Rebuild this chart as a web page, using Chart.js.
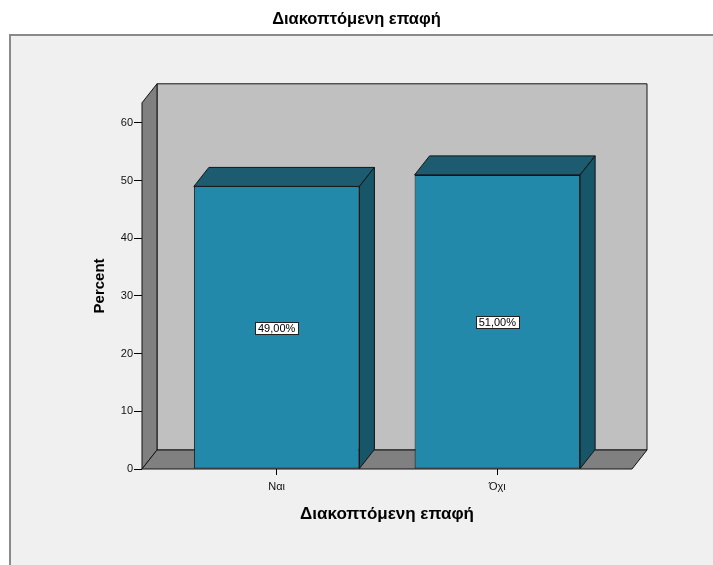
<!DOCTYPE html>
<html>
<head>
<meta charset="utf-8">
<script src="https://cdn.jsdelivr.net/npm/chart.js@4.4.1/dist/chart.umd.min.js"></script>
<style>
  html, body { margin: 0; padding: 0; background: #ffffff; }
  canvas { display: block; }
</style>
</head>
<body>
<canvas id="chart" width="713" height="565"></canvas>
<script>
// Categories, percentages and the tick values of the vertical axis
const categories = ['Ναι', 'Όχι'];
const percentValues = [49, 51];
const valueLabels = ['49,00%', '51,00%'];
const yTickValues = [0, 10, 20, 30, 40, 50, 60];

const FONT = '"Liberation Sans", Arial, Helvetica, sans-serif';
// Offset used for the pseudo-3D depth of walls and bars
const DEPTH_X = 15;
const DEPTH_Y = -19;
const COLORS = {
  front: '#2389ab',
  top: '#1c5b70',
  side: '#175668',
  backWall: '#c0c0c0',
  leftWall: '#808080',
  floor: '#808080',
  edge: '#141414'
};

function polygon(ctx, pts, fill, stroke) {
  ctx.beginPath();
  ctx.moveTo(pts[0][0], pts[0][1]);
  for (let i = 1; i < pts.length; i++) ctx.lineTo(pts[i][0], pts[i][1]);
  ctx.closePath();
  ctx.fillStyle = fill;
  ctx.fill();
  ctx.strokeStyle = stroke;
  ctx.lineWidth = 1;
  ctx.stroke();
}

// Page background and the grey frame around the plot
const backdrop = {
  id: 'backdrop',
  beforeDraw(chart) {
    const ctx = chart.ctx;
    ctx.save();
    ctx.fillStyle = '#ffffff';
    ctx.fillRect(0, 0, chart.width, chart.height);
    ctx.fillStyle = '#f0f0f0';
    ctx.fillRect(10, 35, chart.width, chart.height);
    ctx.strokeStyle = '#8a8a8a';
    ctx.lineWidth = 2;
    ctx.beginPath();
    ctx.moveTo(10, chart.height + 4);
    ctx.lineTo(10, 35);
    ctx.lineTo(chart.width + 4, 35);
    ctx.stroke();
    ctx.restore();
  }
};

// Back wall, left wall and floor of the 3D box, then the bar tops, sides and value labels
const box3d = {
  id: 'box3d',
  beforeDatasetsDraw(chart) {
    const ctx = chart.ctx;
    const y = chart.scales.y;
    const { left, right } = chart.chartArea;
    const top = y.getPixelForValue(y.max);
    const bottom = y.getPixelForValue(0);
    ctx.save();
    polygon(ctx, [[left + DEPTH_X, top + DEPTH_Y], [right + DEPTH_X, top + DEPTH_Y],
                  [right + DEPTH_X, bottom + DEPTH_Y], [left + DEPTH_X, bottom + DEPTH_Y]],
            COLORS.backWall, COLORS.edge);
    polygon(ctx, [[left, bottom], [left, top], [left + DEPTH_X, top + DEPTH_Y], [left + DEPTH_X, bottom + DEPTH_Y]],
            COLORS.leftWall, COLORS.edge);
    polygon(ctx, [[left, bottom], [right, bottom], [right + DEPTH_X, bottom + DEPTH_Y], [left + DEPTH_X, bottom + DEPTH_Y]],
            COLORS.floor, COLORS.edge);
    ctx.restore();
  },
  afterDatasetsDraw(chart) {
    const ctx = chart.ctx;
    const yScale = chart.scales.y;
    const meta = chart.getDatasetMeta(0);
    ctx.save();
    meta.data.forEach((bar, i) => {
      const p = bar.getProps(['x', 'y', 'base', 'width'], true);
      const l = p.x - p.width / 2;
      const r = p.x + p.width / 2;
      polygon(ctx, [[l, p.y], [l + DEPTH_X, p.y + DEPTH_Y], [r + DEPTH_X, p.y + DEPTH_Y], [r, p.y]],
              COLORS.top, COLORS.edge);
      polygon(ctx, [[r, p.y], [r + DEPTH_X, p.y + DEPTH_Y], [r + DEPTH_X, p.base + DEPTH_Y], [r, p.base]],
              COLORS.side, COLORS.edge);

      // value label in a white box at mid-height of the bar
      const cy = yScale.getPixelForValue(percentValues[i] / 2);
      ctx.font = '11px ' + FONT;
      const text = valueLabels[i];
      const w = Math.round(ctx.measureText(text).width) + 6;
      const h = 12;
      const bx = Math.round(p.x - w / 2) + 0.5;
      const by = Math.round(cy - h / 2) + 0.5;
      ctx.fillStyle = '#ffffff';
      ctx.fillRect(bx, by, w, h);
      ctx.strokeStyle = '#222222';
      ctx.lineWidth = 1;
      ctx.strokeRect(bx, by, w, h);
      ctx.fillStyle = '#000000';
      ctx.textAlign = 'center';
      ctx.textBaseline = 'middle';
      ctx.fillText(text, p.x, by + h / 2 + 0.5);
    });
    ctx.restore();
  }
};

const barData = percentValues.map((v, i) => ({ x: i, y: v }));

new Chart(document.getElementById('chart'), {
  type: 'bar',
  data: {
    datasets: [{
      data: barData,
      xAxisID: 'x',
      yAxisID: 'y',
      backgroundColor: COLORS.front,
      borderColor: COLORS.edge,
      borderWidth: 1,
      borderSkipped: false,
      categoryPercentage: 1,
      barPercentage: 0.75
    }]
  },
  plugins: [backdrop, box3d],
  options: {
    responsive: false,
    animation: false,
    devicePixelRatio: 1,
    layout: { padding: 0 },
    plugins: {
      legend: { display: false },
      tooltip: { enabled: false },
      title: {
        display: true,
        text: 'Διακοπτόμενη επαφή',
        color: '#000000',
        font: { family: FONT, size: 16.5, weight: 'bold', lineHeight: 1.2 },
        padding: { top: 10, bottom: 73 }
      }
    },
    scales: {
      x: {
        type: 'linear',
        offset: false,
        min: -0.61,
        max: 1.61,
        afterBuildTicks(scale) {
          scale.ticks = categories.map((c, i) => ({ value: i }));
        },
        afterFit(scale) { scale.height = 96; },
        ticks: {
          callback: (v) => categories[v],
          color: '#111111',
          font: { family: FONT, size: 11 },
          padding: 5,
          maxRotation: 0,
          autoSkip: false
        },
        grid: { offset: false, drawOnChartArea: false, drawTicks: true, tickLength: 6, color: '#000000' },
        border: { display: false },
        title: {
          display: true,
          text: 'Διακοπτόμενη επαφή',
          color: '#000000',
          font: { family: FONT, size: 17, weight: 'bold', lineHeight: 1.2 },
          padding: { top: 0, bottom: 40 }
        }
      },
      y: {
        type: 'linear',
        position: 'left',
        min: 0,
        max: 63.5,
        afterBuildTicks(scale) {
          scale.ticks = yTickValues.map(v => ({ value: v }));
        },
        afterFit(scale) { scale.width = 142; },
        ticks: {
          color: '#111111',
          font: { family: FONT, size: 11 },
          padding: 1
        },
        grid: { drawOnChartArea: false, drawTicks: true, tickLength: 8, color: '#000000' },
        border: { display: false },
        title: {
          display: true,
          text: 'Percent',
          color: '#000000',
          font: { family: FONT, size: 15, weight: 'bold', lineHeight: 1.2 },
          padding: { top: 91, bottom: 0 }
        }
      },
      // empty right-hand margin that leaves room for the depth of the box
      rightMargin: {
        type: 'linear',
        position: 'right',
        display: true,
        afterFit(scale) { scale.width = 81; },
        ticks: { display: false },
        grid: { display: false },
        border: { display: false }
      }
    }
  }
});
</script>
</body>
</html>
